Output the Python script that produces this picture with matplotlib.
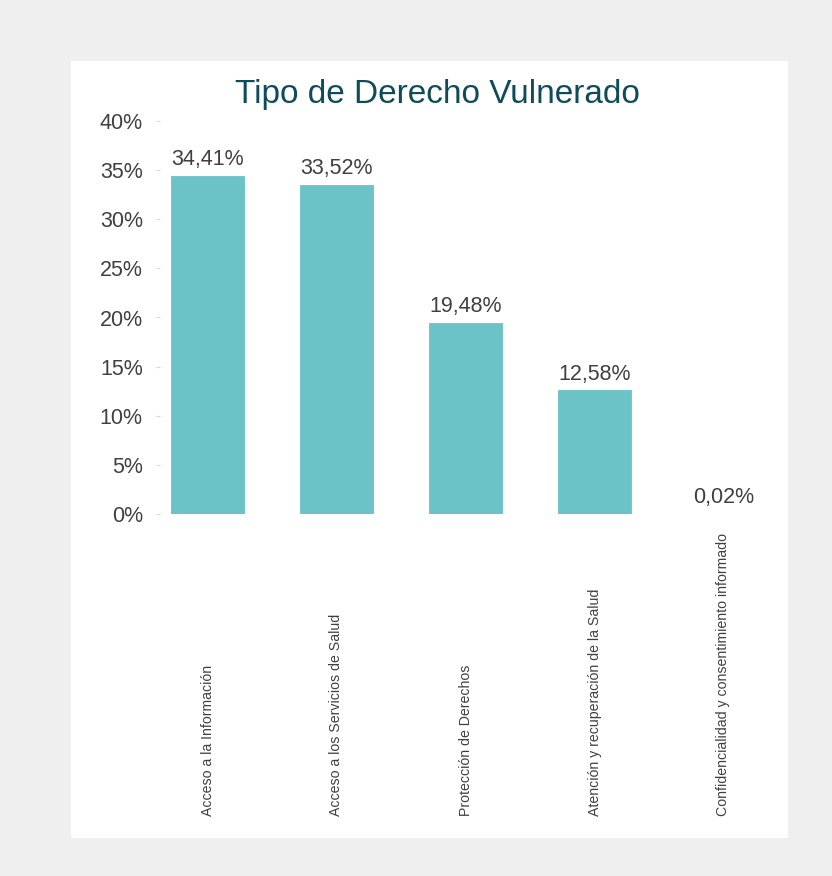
import matplotlib.pyplot as plt
from matplotlib.patches import Rectangle
from matplotlib.transforms import blended_transform_factory

plt.rcParams['font.family'] = ['Liberation Sans', 'DejaVu Sans']

categories = [
    'Acceso a la Información',
    'Acceso a los Servicios de Salud',
    'Protección de Derechos',
    'Atención y recuperación de la Salud',
    'Confidencialidad y consentimiento informado',
]
values = [34.41, 33.52, 19.48, 12.58, 0.02]
yticks = [0, 5, 10, 15, 20, 25, 30, 35, 40]

W, H = 832, 876
fig = plt.figure(figsize=(W / 100, H / 100), dpi=100)
fig.patch.set_facecolor('#efefef')

# white chart panel, kept behind the axes
fig.patches.append(Rectangle((71 / W, 1 - 838 / H), (788 - 71) / W, (838 - 61) / H,
                             transform=fig.transFigure, facecolor='white',
                             edgecolor='none', zorder=-5))

ax_left, ax_right = 160 / W, 788 / W
ax_bottom, ax_top = 1 - 514 / H, 1 - 121 / H
ax = fig.add_axes([ax_left, ax_bottom, ax_right - ax_left, ax_top - ax_bottom])
ax.set_facecolor('none')
ax.set_zorder(2)

x = list(range(len(categories)))
bar_color = '#6bc3c8'
text_color = '#404040'
# thin edge so the tiny 0,02% bar still shows as a line
ax.bar(x, values, width=73 / 129, color=bar_color, edgecolor=bar_color,
       linewidth=0.6, zorder=2)

# data labels
for xi, v in zip(x, values):
    ax.annotate(f'{v:.2f}'.replace('.', ',') + '%', (xi, v),
                xytext=(0, 4), textcoords='offset points',
                ha='center', va='bottom', fontsize=15.5, color=text_color)

ax.set_xlim(-(207.5 - 160) / 129, (788 - 207.5) / 129)
ax.set_ylim(0, 40)
ax.set_yticks(yticks)
ax.set_yticklabels([f'{t}%' for t in yticks])
ax.tick_params(axis='y', length=3, color='#d9d9d9', labelsize=15.5,
               labelcolor=text_color, pad=9.4)
ax.set_xticks([])
for s in ax.spines.values():
    s.set_visible(False)

# rotated category labels, anchored at the bottom
trans = blended_transform_factory(ax.transData, fig.transFigure)
for xi, name in zip(x, categories):
    ax.text(xi, 1 - 816 / H, name, rotation=90, ha='center', va='bottom',
            fontsize=10.2, color=text_color, transform=trans)

fig.text(437 / W, 1 - 95 / H, 'Tipo de Derecho Vulnerado', ha='center',
         va='center', fontsize=24, color='#0f4c5a')

fig.savefig('out.png', dpi=100, facecolor=fig.get_facecolor())
